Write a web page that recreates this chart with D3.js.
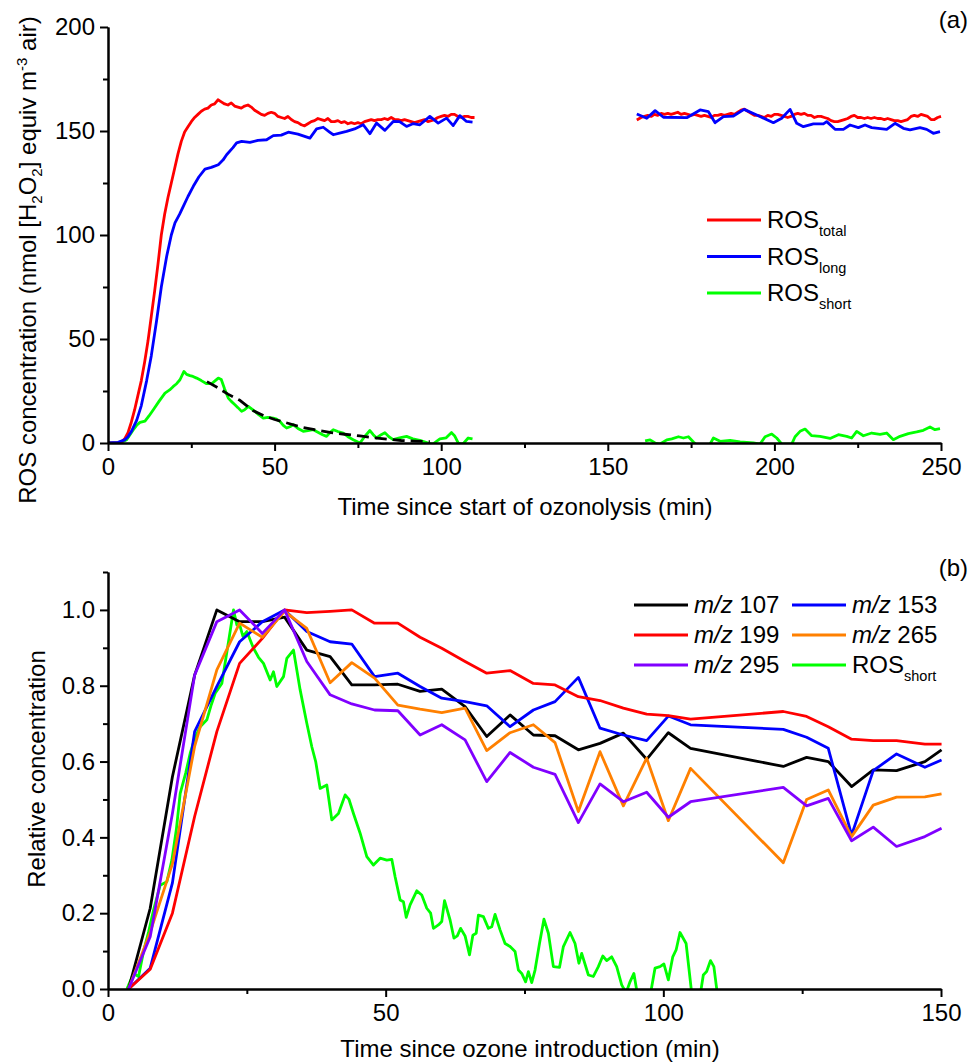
<!DOCTYPE html>
<html>
<head>
<meta charset="utf-8">
<script src="https://cdn.jsdelivr.net/npm/d3@7"></script>
<style>
  body { margin: 0; background: #fff; }
  svg { font-family: "Liberation Sans", Arial, sans-serif; }
  .axis path, .axis line { stroke: #000; stroke-width: 2; }
  .axis text { font-size: 24px; fill: #000; font-family: "Liberation Sans", Arial, sans-serif; }
  .series { fill: none; stroke-width: 2.8; stroke-linejoin: round; }
  .lbl { font-size: 24px; fill: #000; }
</style>
</head>
<body>
<svg id="chart" width="971" height="1063"></svg>
<script>

// ---------- panel (a): ROS vs time since start of ozonolysis ----------
// [minutes, nmol H2O2 equiv m-3]
var rosTotal1 = [[0,0],[1,0],[2,0],[3,0.2],[4,0.5],[5,2],[6,5],[7,10],[8,16],[9,23],[10,30],[11,39],[12,49],[13,61],[14,73],[15,86],[16,100],[17,110],[18,118],[19,125],[20,132],[21,139],[22,145],[23,149.5],[24,152],[25,154.5],[26,156.5],[27,158],[28,159.5],[29,160.5],[30,161],[31,162.5],[32,163],[33,165],[34,164],[35,163],[36,162.5],[37,163.5],[38,162],[39,161.5],[40,161],[41,162],[42,162.5],[43,161.5],[44,160],[45,159],[46,158],[47,157.5],[48,158.5],[49,159],[50,158.5],[51,157],[52,156.5],[53,156],[54,157],[55,155.5],[56,154.5],[57,154],[58,153],[59,152.5],[60,153.5],[61,154.5],[62,155],[63,156],[64,155.5],[65,155],[66,156],[67,154.5],[68,154.5],[69,155],[70,154],[71,154.5],[72,153.5],[73,154],[74,153.5],[75,154],[76,153.5],[77,154.5],[78,155],[79,155.5],[80,155],[81,155.5],[82,155.5],[83,156],[84,155.5],[85,156.5],[86,155.5],[87,155.5],[88,155],[89,155.5],[90,155],[91,154.5],[92,154],[93,154.5],[94,155],[95,155.5],[96,154.5],[97,155],[98,155.5],[99,156.5],[100,157],[101,157.5],[102,157],[103,158],[104,158],[105,157],[106,156.5],[107,157],[108,157],[109,156.5],[110,156.5]];
var rosTotal2 = [[158.7,155.3],[160,156.5],[161,157],[162,157.5],[163,157],[164,158],[165,157.5],[166,158.5],[167,158],[168,158.5],[169,158],[170,158.5],[171,159],[172,158],[173,158.5],[174,158],[175,157.5],[176,158],[177,157.5],[178,157],[179,157.5],[180,157],[181,156.5],[182,157.5],[183,157.5],[184,158],[185,157.5],[186,158],[187,158.5],[188,158],[189,159],[190,160],[191,160.5],[192,159.5],[193,158.5],[194,157.5],[195,157.5],[196,157],[197,156.5],[198,157.5],[199,157],[200,158],[201,158],[202,157.5],[203,157],[204,156.5],[205,157],[206,158],[207,158.5],[208,158],[209,158.5],[210,157.5],[211,157.5],[212,156.5],[213,157],[214,157],[215,156.5],[216,156],[217,155],[218,154.5],[219,154.5],[220,155],[221,155.5],[222,156],[223,157],[224,157.5],[225,156.5],[226,156.5],[227,156],[228,156.5],[229,156],[230,156.5],[231,156],[232,156],[233,155.5],[234,156],[235,155.5],[236,155],[237,155],[238,154.5],[239,155],[240,155.5],[241,157],[242,157.5],[243,157],[244,158],[245,157.5],[246,157],[247,155.5],[248,155.5],[249,156.5],[250,157]];

var rosLong1 = [[0,0],[3,0.3],[5,1.5],[6,3],[7,5.5],[8.6,10.9],[10,18],[11.6,30],[13,42],[14.6,59],[16,75],[17.6,89.7],[19,100],[20.1,105.8],[21.5,110],[22.6,113.8],[24,118.5],[25.6,123.4],[27.3,128],[29.1,131.7],[31,132.5],[33.1,133.8],[34.5,136],[35.6,138.6],[37.5,142],[38.6,144.3],[40.1,145],[42.6,144.5],[45,145.5],[47.6,145.8],[49.6,147.8],[52,148],[54.1,149.4],[57,148.5],[60.6,146.6],[62.6,151],[64.6,151.8],[66.5,149.5],[67.6,148.2],[69.5,149],[71.6,149.8],[74,151],[76.6,153],[78.6,148.7],[80.6,153.8],[83.1,150.3],[85.6,154.6],[87.5,154.5],[89.6,152.2],[91.5,153.5],[93.6,153],[96.6,157],[99.1,153.8],[101.6,156.2],[103.6,152.6],[105.6,157.4],[107.6,154.6],[109.4,154.3]];
var rosLong2 = [[158.7,158.2],[161.7,156.1],[164.2,159.8],[166.7,156.6],[173.7,156.4],[177.7,160.1],[180.2,159.3],[182.2,154],[184.7,156.9],[187.7,157.2],[190.9,160.4],[194.7,157.7],[199.7,154],[202.2,156.1],[204.7,160.4],[206.7,153.7],[208.7,152.1],[211.7,153.4],[214.7,153.4],[215.7,154.5],[218.2,150.8],[220.7,150.8],[222.7,152.9],[225.2,151.6],[227.2,152.9],[229.2,151.6],[233.7,150.8],[236.2,153.7],[238.7,151.3],[240.7,150.5],[243.7,151.6],[245.7,150.8],[247.7,148.9],[249.7,149.7]];

var rosShort1 = [[0,0],[3.6,0],[5.6,1.6],[7.6,6.4],[8.6,8.5],[9.6,9.9],[11.1,10.5],[12.3,13],[13.6,16],[15.3,20],[17.1,24],[18.5,25.5],[19.6,27.2],[20.6,28.5],[21.6,30.4],[22.8,34.4],[23.6,33],[24.6,32.4],[25.5,32],[26.6,31.2],[28,30],[29.6,28.5],[31.1,28.5],[32.2,30],[33.1,31.2],[34,30.5],[35,26],[36.1,21.6],[37,20],[38.1,18.4],[39,17],[40.1,15.2],[41,16],[42.1,17.6],[43,16.5],[44.1,15.2],[45.3,13.5],[46.6,12],[48,12.3],[49.6,12],[50.6,11.5],[51.6,10.4],[52.6,8.5],[53.6,7.2],[54.6,7.8],[55.6,8.8],[57,7],[58.6,5.6],[60,6],[61.6,6.4],[63,5.2],[64.4,4],[65.6,3.2],[66.6,5],[67.6,6.4],[69,5.5],[70.6,4.8],[72,3],[73.6,1.6],[75.6,0],[77,3],[78.6,6],[79.6,4],[80.6,2.4],[82,4],[83.1,5],[84.3,3],[85.6,1.6],[87.5,2.5],[89.6,3.2],[91.5,2],[93.6,1.3],[96.1,0],[97.5,-0.5],[99.6,2],[101.5,2.5],[103.1,5],[104,3.5],[105.1,0],[106.5,-0.5],[108.1,2.4],[109.4,2]];
var rosShort2 = [[161.2,1],[162.7,1.5],[164.2,0],[165.7,-0.5],[167.7,1.5],[169.2,2],[171.2,3],[172.7,2.4],[174.2,3],[175.7,0.5],[176.7,-1],[180.7,-0.5],[181.7,2.4],[183.7,0.8],[186.7,1.3],[189.7,0.5],[193.7,0],[195.7,-0.5],[197.2,3],[199.2,4.3],[200.7,2.4],[202.2,-0.5],[205.2,-0.5],[206.2,3],[207.7,5.6],[209.2,6.7],[211.2,3.5],[213.7,3.2],[216.7,2.2],[219.2,4],[221.7,3.2],[223.2,2.4],[224.7,5.6],[226.7,3.5],[229.2,4.8],[231.7,4.2],[233.7,4.8],[235.7,1.6],[237.7,3.2],[240.2,4.5],[242.7,5.3],[244.7,6.1],[246.7,7.7],[248.2,6.4],[249.7,6.9]];

// exponential decay fit of ROS short
var rosShortFit = [[29.7,29.5],[33,26.5],[36,23.5],[39.6,20.5],[43.6,15.5],[47,13],[50,11.3],[54,9.5],[57.6,7.8],[62,6.4],[67,5],[71,4.2],[75.6,3.4],[80,2.5],[84,1.8],[88,1.2],[92,0.9],[96.6,0.6]];

// ---------- panel (b): relative concentration vs time since ozone introduction ----------
var msTimes = [3.7, 7.6, 11.6, 15.6, 19.6, 23.7, 27.8, 31.8, 35.8, 40.0, 43.9, 48.0, 52.2, 56.2, 60.1, 64.3, 68.2, 72.4, 76.6, 80.5, 84.7, 88.6, 92.8, 97.0, 100.9, 104.9, 121.6, 125.8, 129.7, 133.9, 137.8, 142.0, 147.1, 150.1];
var mz107 = [0, 0.213, 0.56, 0.828, 1.0, 0.969, 0.969, 0.981, 0.894, 0.877, 0.802, 0.802, 0.804, 0.785, 0.791, 0.745, 0.666, 0.723, 0.670, 0.668, 0.631, 0.648, 0.675, 0.606, 0.676, 0.635, 0.587, 0.611, 0.600, 0.534, 0.578, 0.576, 0.600, 0.631];
var mz153 = [0, 0.055, 0.28, 0.679, 0.798, 0.916, 0.969, 1.0, 0.943, 0.916, 0.910, 0.824, 0.833, 0.798, 0.767, 0.758, 0.747, 0.692, 0.736, 0.758, 0.822, 0.688, 0.670, 0.655, 0.720, 0.697, 0.685, 0.664, 0.635, 0.406, 0.576, 0.620, 0.585, 0.604];
var mz199 = [0, 0.052, 0.2, 0.455, 0.679, 0.859, 0.925, 1.0, 0.993, 0.996, 1.0, 0.965, 0.965, 0.928, 0.899, 0.864, 0.833, 0.840, 0.806, 0.802, 0.771, 0.761, 0.741, 0.725, 0.721, 0.712, 0.732, 0.719, 0.692, 0.659, 0.655, 0.655, 0.646, 0.646];
var mz265 = [0, 0.15, 0.33, 0.64, 0.842, 0.965, 0.928, 0.996, 0.951, 0.808, 0.861, 0.82, 0.749, 0.738, 0.729, 0.741, 0.629, 0.676, 0.697, 0.650, 0.468, 0.626, 0.483, 0.609, 0.444, 0.582, 0.333, 0.500, 0.525, 0.402, 0.485, 0.506, 0.507, 0.515];
var mz295 = [0, 0.138, 0.463, 0.828, 0.969, 1.0, 0.938, 1.0, 0.864, 0.776, 0.752, 0.736, 0.734, 0.670, 0.697, 0.657, 0.547, 0.624, 0.585, 0.566, 0.439, 0.541, 0.494, 0.519, 0.453, 0.494, 0.532, 0.483, 0.503, 0.391, 0.427, 0.376, 0.402, 0.424];
var rosShortRel = [[3.4,0],[4.6,0.041],[5.5,0.033],[6.4,0.099],[7.3,0.15],[8.2,0.208],[9.4,0.274],[10.6,0.283],[11.5,0.34],[12.3,0.42],[13,0.516],[14,0.57],[14.8,0.622],[15.6,0.66],[16.6,0.692],[17.8,0.71],[18.6,0.75],[19.3,0.78],[20.5,0.806],[21.7,0.916],[22.6,1.0],[23.2,0.96],[23.8,0.956],[24.3,0.93],[25,0.943],[26.2,0.899],[27.1,0.875],[28,0.859],[29.2,0.815],[29.8,0.837],[30.4,0.798],[31.6,0.824],[32.2,0.872],[33.4,0.894],[34.6,0.789],[35.8,0.701],[36.7,0.639],[37.4,0.6],[38.2,0.529],[39.4,0.538],[40.3,0.446],[41.5,0.463],[42.7,0.512],[43.4,0.5],[44.2,0.463],[45.4,0.411],[46.6,0.349],[47.8,0.327],[49,0.345],[50.2,0.34],[51.1,0.342],[51.7,0.296],[52.6,0.235],[53.2,0.23],[53.7,0.189],[54.4,0.222],[55.6,0.259],[56.5,0.248],[57.4,0.213],[58.1,0.2],[58.6,0.16],[59.5,0.169],[60.1,0.178],[60.6,0.233],[61.6,0.182],[62.3,0.134],[62.9,0.14],[63.5,0.16],[64.3,0.14],[65.1,0.09],[65.7,0.142],[66.3,0.147],[66.7,0.195],[67.6,0.191],[68.5,0.16],[69.1,0.164],[69.7,0.197],[70.6,0.156],[71.5,0.12],[72.4,0.112],[73.3,0.099],[73.9,0.05],[74.5,0.041],[75.2,0.019],[75.7,0.046],[76.3,0.017],[76.9,0.05],[77.7,0.12],[78.5,0.184],[79.3,0.147],[80.2,0.059],[81.3,0.057],[82,0.112],[83.2,0.149],[84.1,0.12],[84.8,0.068],[85.3,0.094],[86.5,0.037],[87.4,0.033],[88.3,0.059],[89.1,0.087],[89.8,0.075],[90.7,0.085],[91.6,0.059],[92.5,0.011],[93.3,-0.01],[94,0.019],[94.7,0.041],[95.4,-0.02],[96.5,-0.05],[97.6,-0.02],[98.5,0.055],[99.4,0.059],[100.1,0.066],[100.9,0.024],[101.7,0.085],[102.3,0.103],[103,0.149],[104.1,0.12],[105.1,-0.01],[106,-0.05],[106.7,-0.01],[107.2,0.037],[107.8,0.046],[108.5,0.075],[109.1,0.059],[109.7,-0.01]];

var svg = d3.select("#chart");

// helper: major + minor axes
function drawAxes(g, x, y, xMajor, xMinor, yMajor, yMinor, yFmt) {
  g.append("g").attr("class", "axis")
      .attr("transform", "translate(0," + y.range()[0] + ")")
      .call(d3.axisBottom(x).tickValues(xMinor).tickSize(5).tickSizeOuter(0).tickFormat(""));
  g.append("g").attr("class", "axis")
      .attr("transform", "translate(0," + y.range()[0] + ")")
      .call(d3.axisBottom(x).tickValues(xMajor).tickSize(8).tickSizeOuter(0).tickPadding(7));
  g.append("g").attr("class", "axis")
      .attr("transform", "translate(" + x.range()[0] + ",0)")
      .call(d3.axisLeft(y).tickValues(yMinor).tickSize(5).tickSizeOuter(0).tickFormat(""));
  g.append("g").attr("class", "axis")
      .attr("transform", "translate(" + x.range()[0] + ",0)")
      .call(d3.axisLeft(y).tickValues(yMajor).tickSize(8).tickSizeOuter(0).tickPadding(5).tickFormat(yFmt));
}

// ===== panel (a) =====
var xa = d3.scaleLinear().domain([0, 250]).range([108, 941]);
var ya = d3.scaleLinear().domain([0, 200]).range([443, 27]);
var ga = svg.append("g");

ga.append("clipPath").attr("id", "clipA").append("rect")
    .attr("x", 108).attr("y", 20).attr("width", 840).attr("height", 423);

var lineA = d3.line().x(function(d) { return xa(d[0]); }).y(function(d) { return ya(d[1]); });
var pa = ga.append("g").attr("clip-path", "url(#clipA)");

[[rosShort1, "#00ff00"], [rosShort2, "#00ff00"],
 [rosTotal1, "#ff0000"], [rosTotal2, "#ff0000"],
 [rosLong1, "#0000ff"], [rosLong2, "#0000ff"]].forEach(function(s) {
  pa.append("path").datum(s[0]).attr("class", "series").attr("stroke", s[1]).attr("d", lineA);
});
pa.append("path").datum(rosShortFit).attr("class", "series")
    .attr("stroke", "#000").attr("stroke-dasharray", "12,6").attr("d", lineA);

drawAxes(ga, xa, ya, d3.range(0, 251, 50), d3.range(25, 250, 50),
         d3.range(0, 201, 50), d3.range(25, 200, 50), d3.format("d"));

// legend (a)
var legA = [["total", "#ff0000"], ["long", "#0000ff"], ["short", "#00ff00"]];
legA.forEach(function(d, i) {
  var yy = 220 + i * 36.5;
  ga.append("line").attr("x1", 707).attr("x2", 761).attr("y1", yy).attr("y2", yy)
      .attr("stroke", d[1]).attr("stroke-width", 2.8);
  var t = ga.append("text").attr("class", "lbl").attr("x", 767).attr("y", yy + 8);
  t.append("tspan").text("ROS");
  t.append("tspan").attr("dy", 8).attr("font-size", 14.5).text(d[0]);
});

ga.append("text").attr("class", "lbl").attr("x", 968).attr("y", 28)
    .attr("text-anchor", "end").text("(a)");

ga.append("text").attr("class", "lbl").attr("x", 525).attr("y", 515)
    .attr("text-anchor", "middle").text("Time since start of ozonolysis (min)");

var yt = ga.append("text").attr("class", "lbl").attr("font-size", 23).attr("text-anchor", "middle")
    .attr("transform", "translate(36,260) rotate(-90)");
yt.append("tspan").text("ROS concentration (nmol [H");
yt.append("tspan").attr("dy", 6).attr("font-size", 15).text("2");
yt.append("tspan").attr("dy", -6).text("O");
yt.append("tspan").attr("dy", 6).attr("font-size", 15).text("2");
yt.append("tspan").attr("dy", -6).text("] equiv m");
yt.append("tspan").attr("dy", -9).attr("font-size", 15).text("-3");
yt.append("tspan").attr("dy", 9).text(" air)");

// ===== panel (b) =====
var xb = d3.scaleLinear().domain([0, 150]).range([108, 941]);
var yb = d3.scaleLinear().domain([0, 1.1]).range([989, 572]);
var gb = svg.append("g");

gb.append("clipPath").attr("id", "clipB").append("rect")
    .attr("x", 108).attr("y", 560).attr("width", 840).attr("height", 429);

var lineB = d3.line().x(function(d) { return xb(d[0]); }).y(function(d) { return yb(d[1]); });
var pb = gb.append("g").attr("clip-path", "url(#clipB)");

function pairs(vals) { return msTimes.map(function(t, i) { return [t, vals[i]]; }); }

var seriesB = [
  {name: "107", vals: mz107, color: "#000000"},
  {name: "153", vals: mz153, color: "#0000ff"},
  {name: "199", vals: mz199, color: "#ff0000"},
  {name: "265", vals: mz265, color: "#ff8000"},
  {name: "295", vals: mz295, color: "#8000ff"}
];

pb.append("path").datum(rosShortRel).attr("class", "series").attr("stroke", "#00ff00").attr("d", lineB);
seriesB.forEach(function(s) {
  pb.append("path").datum(pairs(s.vals)).attr("class", "series").attr("stroke", s.color).attr("d", lineB);
});

drawAxes(gb, xb, yb, d3.range(0, 151, 50), d3.range(25, 150, 50),
         d3.range(0, 1.01, 0.2), d3.range(0.1, 1.11, 0.2), d3.format(".1f"));

// legend (b): two columns
var legB = [
  {lab: "107", color: "#000000", col: 0, row: 0},
  {lab: "153", color: "#0000ff", col: 1, row: 0},
  {lab: "199", color: "#ff0000", col: 0, row: 1},
  {lab: "265", color: "#ff8000", col: 1, row: 1},
  {lab: "295", color: "#8000ff", col: 0, row: 2},
  {lab: null, color: "#00ff00", col: 1, row: 2}
];
legB.forEach(function(d) {
  var x0 = d.col ? 792 : 634, yy = 605 + d.row * 30;
  gb.append("line").attr("x1", x0).attr("x2", x0 + 54).attr("y1", yy).attr("y2", yy)
      .attr("stroke", d.color).attr("stroke-width", 2.8);
  var t = gb.append("text").attr("class", "lbl").attr("x", x0 + 60).attr("y", yy + 8);
  if (d.lab) {
    t.append("tspan").attr("font-style", "italic").text("m/z");
    t.append("tspan").text(" " + d.lab);
  } else {
    t.append("tspan").text("ROS");
    t.append("tspan").attr("dy", 8).attr("font-size", 14.5).text("short");
  }
});

gb.append("text").attr("class", "lbl").attr("x", 968).attr("y", 576)
    .attr("text-anchor", "end").text("(b)");

gb.append("text").attr("class", "lbl").attr("x", 530).attr("y", 1057)
    .attr("text-anchor", "middle").text("Time since ozone introduction (min)");

gb.append("text").attr("class", "lbl").attr("text-anchor", "middle")
    .attr("transform", "translate(45,769) rotate(-90)").text("Relative concentration");

</script>
</body>
</html>
